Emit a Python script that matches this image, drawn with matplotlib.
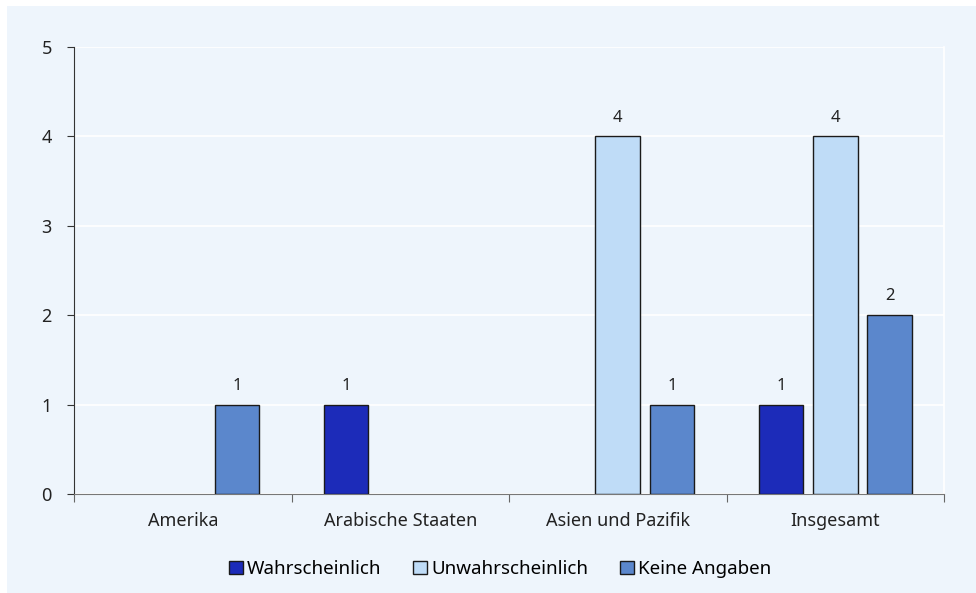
import matplotlib.pyplot as plt
import numpy as np
from matplotlib.patches import Rectangle

plt.rcParams['font.family'] = ['Noto Sans', 'DejaVu Sans']

regions = ["Amerika", "Arabische Staaten", "Asien und Pazifik", "Insgesamt"]
series = ["Wahrscheinlich", "Unwahrscheinlich", "Keine Angaben"]
wahrscheinlich = [0, 1, 0, 1]
unwahrscheinlich = [0, 0, 4, 4]
keine_angaben = [1, 0, 1, 2]
colors = ["#1c2bb9", "#bfdcf7", "#5b87cc"]
bg = "#eef5fc"

fig = plt.figure(figsize=(9.76, 5.93), dpi=100)
fig.patch.set_facecolor("white")
# light panel behind the whole chart, leaving a thin white margin top/left
fig.add_artist(Rectangle((7 / 976, 0), 1, 1 - 6 / 593, transform=fig.transFigure,
                         facecolor=bg, edgecolor="none", zorder=-10))

ax = fig.add_axes([74 / 976, 1 - 494 / 593, 870 / 976, 447 / 593])
ax.set_facecolor(bg)

x = np.arange(len(regions))
width = 0.205
offsets = [-0.25, 0, 0.25]
for vals, name, col, off in zip([wahrscheinlich, unwahrscheinlich, keine_angaben], series, colors, offsets):
    # zero counts get no bar at all
    h = np.where(np.array(vals) > 0, vals, np.nan)
    bars = ax.bar(x + off, h, width, color=col, edgecolor="#1a1a1a", linewidth=1, label=name, zorder=3)
    for xi, v in zip(x + off, vals):
        if v > 0:
            ax.text(xi, v + 0.12, str(v), ha="center", va="bottom", fontsize=12, color="#222222")

ax.set_xlim(-0.5, len(regions) - 0.5)
ax.set_ylim(0, 5)
ax.set_yticks(range(6))
ax.yaxis.grid(True, color="white", linewidth=1.2, zorder=0)
ax.set_axisbelow(True)

ax.set_xticks(np.arange(-0.5, len(regions), 1))
ax.set_xticklabels([])
ax.set_xticks(x, minor=True)
ax.set_xticklabels(regions, minor=True)
ax.tick_params(axis="x", which="major", length=6, color="#666666", direction="out")
ax.tick_params(axis="x", which="minor", length=0, pad=13, labelsize=13, labelcolor="#222222")
ax.tick_params(axis="y", length=5, color="#333333", labelsize=13, labelcolor="#222222", pad=11)

ax.spines["top"].set_visible(False)
ax.spines["right"].set_color("white")
ax.spines["right"].set_linewidth(1.2)
ax.spines["left"].set_color("#333333")
ax.spines["bottom"].set_color("#777777")

leg = ax.legend(loc="center", bbox_to_anchor=(500 / 976, 1 - 569 / 593), bbox_transform=fig.transFigure,
                ncol=3, frameon=False, fontsize=13.5, handlelength=0.75, handleheight=0.75,
                handletextpad=0.2, columnspacing=1.7)

fig.savefig("out.png", dpi=100, facecolor=fig.get_facecolor())
